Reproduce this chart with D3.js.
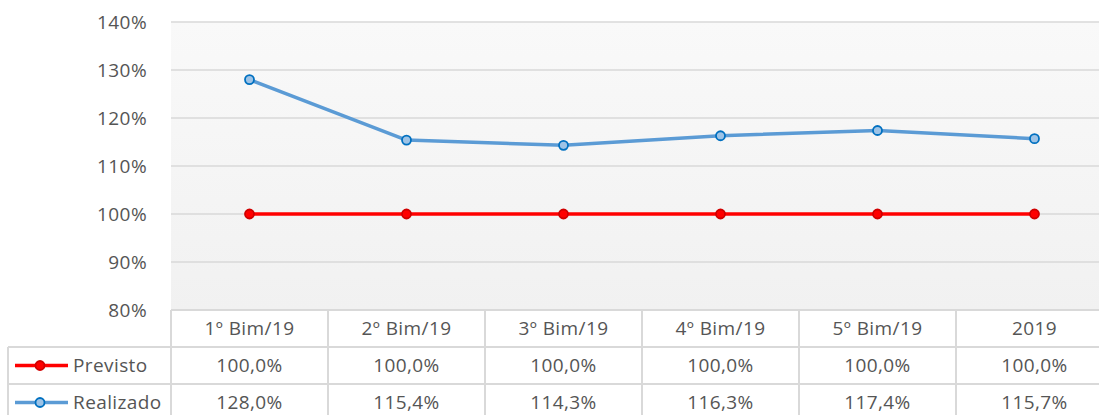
<!DOCTYPE html>
<html>
<head>
<meta charset="utf-8">
<script src="https://cdn.jsdelivr.net/npm/d3@7"></script>
<style>
  body { margin: 0; background: #fff; }
  text { font-family: "Open Sans", sans-serif; fill: #555555; letter-spacing: 0.4px; }
</style>
</head>
<body>
<div id="chart"></div>
<script>
// chart data
var categories = ["1º Bim/19", "2º Bim/19", "3º Bim/19", "4º Bim/19", "5º Bim/19", "2019"];
var previsto = [100.0, 100.0, 100.0, 100.0, 100.0, 100.0];
var realizado = [128.0, 115.4, 114.3, 116.3, 117.4, 115.7];
var yTicks = [80, 90, 100, 110, 120, 130, 140];

var series = [
    { name: "Previsto", values: previsto, line: "#ff0000", fill: "#ff0000", stroke: "#d00000" },
    { name: "Realizado", values: realizado, line: "#5b9bd5", fill: "#9dc3e6", stroke: "#0070c0" }
];

var svgWidth = 1099;
var svgHeight = 415;
var plotLeft = 171;
var colWidth = 157;
var plotTop = 22;
var plotBottom = 310;
var rowH = 37;
var legendLeft = 8;
var fontSize = 19;

var svg = d3.select("#chart")
    .append("svg")
    .attr("width", svgWidth)
    .attr("height", svgHeight);

var defs = svg.append("defs");
var grad = defs.append("linearGradient")
    .attr("id", "bg")
    .attr("x1", 0).attr("y1", 0).attr("x2", 0).attr("y2", 1);
grad.append("stop").attr("offset", "0%").attr("stop-color", "#f9f9f9");
grad.append("stop").attr("offset", "100%").attr("stop-color", "#f1f1f1");

var xScale = d3.scaleBand()
    .domain(categories)
    .range([plotLeft, plotLeft + colWidth * categories.length]);

var yScale = d3.scaleLinear()
    .domain([80, 140])
    .range([plotBottom, plotTop]);

// plot background
svg.append("rect")
    .attr("x", plotLeft)
    .attr("y", plotTop)
    .attr("width", colWidth * categories.length)
    .attr("height", plotBottom - plotTop)
    .attr("fill", "url(#bg)");

// gridlines
svg.append("g")
    .selectAll("line")
    .data(yTicks.slice(1))
    .enter()
    .append("line")
    .attr("x1", plotLeft)
    .attr("x2", plotLeft + colWidth * categories.length)
    .attr("y1", (d) => yScale(d))
    .attr("y2", (d) => yScale(d))
    .attr("stroke", "#d9d9d9")
    .attr("stroke-width", 1.5);

// y axis labels
var yAxis = d3.axisLeft(yScale)
    .tickValues(yTicks)
    .tickFormat((d) => d + "%")
    .tickSize(0)
    .tickPadding(24);
var yG = svg.append("g")
    .attr("transform", "translate(" + plotLeft + ",0)")
    .call(yAxis);
yG.select(".domain").remove();
yG.selectAll("text")
    .attr("font-size", fontSize)
    .attr("font-family", "Open Sans, sans-serif")
    .attr("fill", "#555555");

// lines and markers
var line = d3.line()
    .x((d, i) => xScale(categories[i]) + xScale.bandwidth() / 2)
    .y((d) => yScale(d));

series.forEach(function (s) {
    svg.append("path")
        .datum(s.values)
        .attr("d", line)
        .attr("fill", "none")
        .attr("stroke", s.line)
        .attr("stroke-width", 3.5)
        .attr("stroke-linejoin", "round");
    svg.append("g")
        .selectAll("circle")
        .data(s.values)
        .enter()
        .append("circle")
        .attr("cx", (d, i) => xScale(categories[i]) + xScale.bandwidth() / 2)
        .attr("cy", (d) => yScale(d))
        .attr("r", 4.5)
        .attr("fill", s.fill)
        .attr("stroke", s.stroke)
        .attr("stroke-width", 1.8);
});

// data table
var tableRight = plotLeft + colWidth * categories.length;
var table = svg.append("g");
var border = "#d9d9d9";

table.append("rect")
    .attr("x", plotLeft)
    .attr("y", plotBottom)
    .attr("width", tableRight - plotLeft)
    .attr("height", svgHeight - plotBottom)
    .attr("fill", "#fff");

table.append("line")
    .attr("x1", plotLeft).attr("x2", tableRight)
    .attr("y1", plotBottom).attr("y2", plotBottom)
    .attr("stroke", border).attr("stroke-width", 2);
[1, 2].forEach(function (r) {
    table.append("line")
        .attr("x1", legendLeft).attr("x2", tableRight)
        .attr("y1", plotBottom + rowH * r).attr("y2", plotBottom + rowH * r)
        .attr("stroke", border).attr("stroke-width", 2);
});
table.append("line")
    .attr("x1", legendLeft).attr("x2", legendLeft)
    .attr("y1", plotBottom + rowH).attr("y2", svgHeight)
    .attr("stroke", border).attr("stroke-width", 2);
table.selectAll("line.col")
    .data(categories)
    .enter()
    .append("line")
    .attr("class", "col")
    .attr("x1", (d) => xScale(d)).attr("x2", (d) => xScale(d))
    .attr("y1", plotBottom).attr("y2", svgHeight)
    .attr("stroke", border).attr("stroke-width", 2);

// header row
table.selectAll("text.cat")
    .data(categories)
    .enter()
    .append("text")
    .attr("class", "cat")
    .attr("x", (d) => xScale(d) + xScale.bandwidth() / 2)
    .attr("y", plotBottom + rowH / 2)
    .attr("dy", "0.35em")
    .attr("text-anchor", "middle")
    .attr("font-size", fontSize)
    .text((d) => d);

var fmt = (v) => v.toFixed(1).replace(".", ",") + "%";

series.forEach(function (s, r) {
    var cy = plotBottom + rowH * (r + 1) + rowH / 2;
    // legend key
    table.append("line")
        .attr("x1", 15).attr("x2", 68)
        .attr("y1", cy).attr("y2", cy)
        .attr("stroke", s.line).attr("stroke-width", 3.5);
    table.append("circle")
        .attr("cx", 40).attr("cy", cy).attr("r", 4.5)
        .attr("fill", s.fill).attr("stroke", s.stroke).attr("stroke-width", 1.8);
    table.append("text")
        .attr("x", 73).attr("y", cy)
        .attr("dy", "0.35em")
        .attr("font-size", fontSize)
        .text(s.name);
    table.selectAll("text.v" + r)
        .data(s.values)
        .enter()
        .append("text")
        .attr("class", "v" + r)
        .attr("x", (d, i) => xScale(categories[i]) + xScale.bandwidth() / 2)
        .attr("y", cy)
        .attr("dy", "0.35em")
        .attr("text-anchor", "middle")
        .attr("font-size", fontSize)
        .text(fmt);
});
</script>
</body>
</html>
